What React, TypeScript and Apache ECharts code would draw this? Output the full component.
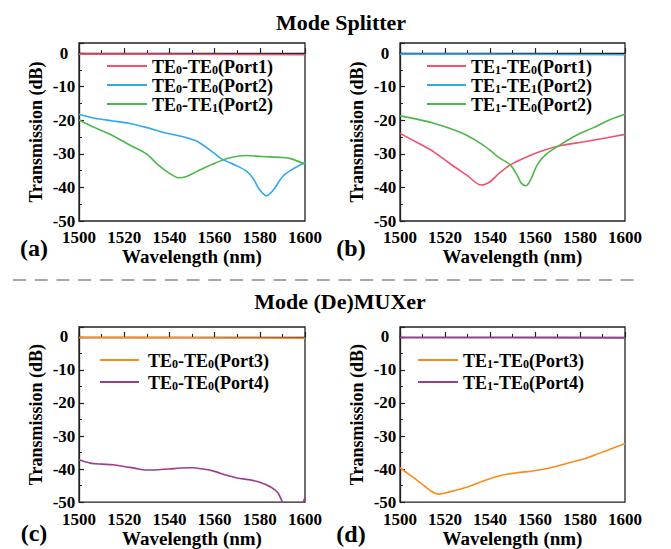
import React, { useEffect, useRef } from 'react';
import * as echarts from 'echarts';

// ---------- data ----------
const xTickLabels = [1500, 1520, 1540, 1560, 1580, 1600];

// (a) Mode splitter, TE0 input
const wlA1 = [1500, 1550, 1600];
const valA1 = [-0.3, -0.35, -0.5];
const wlA2 = [1500, 1507, 1515, 1522, 1530, 1537, 1544, 1552, 1559, 1563, 1569, 1574, 1577, 1580, 1583, 1586, 1590, 1594, 1600];
const valA2 = [-18.2, -19.4, -20.2, -20.9, -22.2, -23.6, -24.6, -26.2, -29.4, -31.5, -33.3, -35.1, -37.3, -40.8, -42.5, -40.8, -36.8, -34.8, -32.5];
const wlA3 = [1500, 1507, 1515, 1522, 1530, 1535, 1540, 1544, 1547, 1552, 1559, 1566, 1574, 1581, 1590, 1594, 1600];
const valA3 = [-19.9, -22.2, -24.6, -27.2, -30.1, -33.3, -35.8, -37.1, -36.9, -35.3, -33.1, -31.3, -30.5, -30.8, -31.1, -31.5, -33.1];

// (b) Mode splitter, TE1 input
const wlB1 = [1500, 1507, 1515, 1522, 1530, 1536, 1540, 1544, 1549, 1555, 1562, 1571, 1582, 1592, 1600];
const valB1 = [-23.9, -26.4, -29.4, -32.8, -36.5, -39.3, -38.3, -35.8, -33.3, -31.3, -29.4, -27.6, -26.4, -25.2, -24.2];
const wlB2 = [1500, 1550, 1600];
const valB2 = [-0.3, -0.35, -0.5];
const wlB3 = [1500, 1507, 1515, 1522, 1530, 1537, 1544, 1549, 1552, 1554, 1556, 1558, 1561, 1565, 1571, 1578, 1586, 1593, 1600];
const valB3 = [-18.7, -19.6, -20.9, -22.4, -24.6, -27.4, -31.1, -33.3, -36.3, -38.8, -39.5, -37.8, -33.3, -30.1, -27.4, -24.6, -22.2, -19.9, -18.2];

// (c) Mode (De)MUXer, TE0 input
const wlC1 = [1500, 1550, 1600];
const valC1 = [-0.2, -0.25, -0.4];
const wlC2 = [1500, 1505, 1510, 1515, 1520, 1525, 1530, 1535, 1540, 1545, 1550, 1555, 1560, 1565, 1570, 1575, 1580, 1585, 1588, 1590, 1593, 1597, 1600];
const valC2 = [-37.2, -38.2, -38.5, -38.7, -39.2, -39.8, -40.3, -40.2, -40.0, -39.7, -39.6, -40.0, -40.7, -41.8, -42.7, -43.2, -44.0, -45.5, -47.2, -50.0, -54.0, -53.0, -48.5];

// (d) Mode (De)MUXer, TE1 input
const wlD1 = [1500, 1504, 1509, 1513, 1517, 1522, 1530, 1537, 1544, 1552, 1559, 1567, 1574, 1582, 1589, 1596, 1600];
const valD1 = [-39.6, -41.6, -44.1, -46.3, -47.6, -46.9, -45.4, -43.6, -42.1, -41.1, -40.6, -39.6, -38.3, -36.9, -35.1, -33.3, -32.3];
const wlD2 = [1500, 1550, 1600];
const valD2 = [-0.2, -0.2, -0.3];

const names = {
  a: ['TE0-TE0(Port1)', 'TE0-TE0(Port2)', 'TE0-TE1(Port2)'],
  b: ['TE1-TE0(Port1)', 'TE1-TE1(Port2)', 'TE1-TE0(Port2)'],
  c: ['TE0-TE0(Port3)', 'TE0-TE0(Port4)'],
  d: ['TE1-TE0(Port3)', 'TE1-TE0(Port4)'],
};

const RED = '#F2506E';
const BLUE = '#30A8EE';
const GREEN = '#4DB849';
const ORANGE = '#FF8A1C';
const PURPLE = '#9C3E8E';

const FONT = 'Liberation Serif';

const zip = (xs: number[], ys: number[]) => xs.map((x, i) => [x, ys[i]]);

const richName = (name: string) => {
  const re = /TE(\d)/g;
  let res = '';
  let last = 0;
  let m: RegExpExecArray | null;
  while ((m = re.exec(name))) {
    res += `{t|${name.slice(last, m.index)}TE}{s|${m[1]}}`;
    last = re.lastIndex;
  }
  if (last < name.length) res += `{t|${name.slice(last)}}`;
  return res;
};

const grids = [
  { left: 79, top: 43, width: 226, height: 178 },
  { left: 400, top: 43, width: 225, height: 178 },
  { left: 79, top: 327, width: 226, height: 176 },
  { left: 400, top: 327, width: 225, height: 176 },
];

const axisColor = '#222';

const makeX = (gridIndex: number, margin: number, nameGap: number) => ({
  type: 'value',
  gridIndex,
  min: xTickLabels[0],
  max: xTickLabels[xTickLabels.length - 1],
  interval: 20,
  name: 'Wavelength (nm)',
  nameLocation: 'middle',
  nameGap,
  nameTextStyle: { fontFamily: FONT, fontWeight: 'bold', fontSize: 19, color: '#000' },
  axisLine: { lineStyle: { color: axisColor, width: 1.3 } },
  axisTick: { inside: true, length: 5, lineStyle: { color: axisColor, width: 1.2 } },
  minorTick: { show: true, splitNumber: 2, length: 3, lineStyle: { color: axisColor, width: 1 } },
  axisLabel: {
    fontFamily: FONT,
    fontWeight: 'bold',
    fontSize: 17,
    color: '#000',
    margin,
    formatter: (v: number) => String(v),
  },
  splitLine: { show: false },
});

const makeY = (gridIndex: number) => ({
  type: 'value',
  gridIndex,
  min: -50,
  max: 3,
  interval: 10,
  name: 'Transmission (dB)',
  nameLocation: 'middle',
  nameGap: 34,
  nameTextStyle: { fontFamily: FONT, fontWeight: 'bold', fontSize: 18, color: '#000' },
  axisLine: { lineStyle: { color: axisColor, width: 1.3 } },
  axisTick: { inside: true, length: 5, lineStyle: { color: axisColor, width: 1.2 } },
  minorTick: { show: true, splitNumber: 2, length: 3, lineStyle: { color: axisColor, width: 1 } },
  axisLabel: {
    fontFamily: FONT,
    fontWeight: 'bold',
    fontSize: 17,
    color: '#000',
    margin: 15,
    align: 'center',
    formatter: (v: number) => (Math.abs(v % 10) < 1e-9 ? String(v) : ''),
  },
  splitLine: { show: false },
});

const line = (name: string, color: string, idx: number, data: number[][]) => ({
  type: 'line',
  name,
  xAxisIndex: idx,
  yAxisIndex: idx,
  data,
  smooth: 0.3,
  symbol: 'none',
  clip: true,
  lineStyle: { color, width: 1.6 },
  itemStyle: { color },
});

const legendText = (padLeft: number) => ({
  fontFamily: FONT,
  fontWeight: 'bold',
  fontSize: 18,
  color: '#000',
  padding: [0, 0, 0, padLeft],
  rich: {
    t: { fontFamily: FONT, fontWeight: 'bold', fontSize: 18, color: '#000', lineHeight: 20, verticalAlign: 'bottom' },
    s: { fontFamily: FONT, fontWeight: 'bold', fontSize: 12, color: '#000', lineHeight: 8, verticalAlign: 'bottom' },
  },
});

const makeLegend = (data: string[], left: number, top: number, itemWidth: number, itemGap: number, padLeft: number) => ({
  data,
  left,
  top,
  orient: 'vertical',
  padding: 0,
  itemGap,
  itemWidth,
  itemHeight: 2,
  icon: 'rect',
  formatter: richName,
  textStyle: legendText(padLeft),
  selectedMode: false,
});

const titleStyle = (text: string, x: number, y: number, size: number) => ({
  type: 'text',
  x,
  y,
  style: {
    text,
    fontFamily: FONT,
    fontWeight: 'bold',
    fontSize: size,
    fill: '#000',
    align: 'center',
    verticalAlign: 'middle',
  },
});

export default function App() {
  const ref = useRef<HTMLDivElement>(null);
  useEffect(() => {
    if (!ref.current) return;
    const chart = echarts.init(ref.current, undefined, { renderer: 'svg' });
    chart.setOption({
      animation: false,
      backgroundColor: '#fff',
      textStyle: { fontFamily: FONT },
      grid: grids.map((g) => ({ ...g, show: true, borderColor: axisColor, borderWidth: 1.3, containLabel: false })),
      xAxis: [makeX(0, 8, 25), makeX(1, 8, 25), makeX(2, 9, 22), makeX(3, 9, 22)],
      yAxis: [makeY(0), makeY(1), makeY(2), makeY(3)],
      legend: [
        makeLegend(names.a, 107, 58, 40, 1, 0),
        makeLegend(names.b, 427, 58, 39, 1, 0),
        makeLegend(names.c, 100, 352, 39, 4, 4),
        makeLegend(names.d, 418, 352, 40, 4, 0),
      ],
      series: [
        line(names.a[0], RED, 0, zip(wlA1, valA1)),
        line(names.a[1], BLUE, 0, zip(wlA2, valA2)),
        line(names.a[2], GREEN, 0, zip(wlA3, valA3)),
        line(names.b[0], RED, 1, zip(wlB1, valB1)),
        line(names.b[1], BLUE, 1, zip(wlB2, valB2)),
        line(names.b[2], GREEN, 1, zip(wlB3, valB3)),
        line(names.c[0], ORANGE, 2, zip(wlC1, valC1)),
        line(names.c[1], PURPLE, 2, zip(wlC2, valC2)),
        line(names.d[0], ORANGE, 3, zip(wlD1, valD1)),
        line(names.d[1], PURPLE, 3, zip(wlD2, valD2)),
      ],
      graphic: [
        titleStyle('Mode Splitter', 341, 22, 22),
        titleStyle('Mode (De)MUXer', 340, 301, 22),
        {
          type: 'line',
          shape: { x1: 13, y1: 280, x2: 637, y2: 280 },
          style: { stroke: '#8a8a8a', lineWidth: 1.5, lineDash: [13, 8.7] },
        },
        titleStyle('(a)', 34, 248, 24),
        titleStyle('(b)', 351, 248, 24),
        titleStyle('(c)', 34, 533, 24),
        titleStyle('(d)', 351, 534, 24),
      ],
    });
    return () => chart.dispose();
  }, []);
  return <div ref={ref} style={{ position: 'fixed', left: 0, top: 0, width: 671, height: 549 }} />;
}
